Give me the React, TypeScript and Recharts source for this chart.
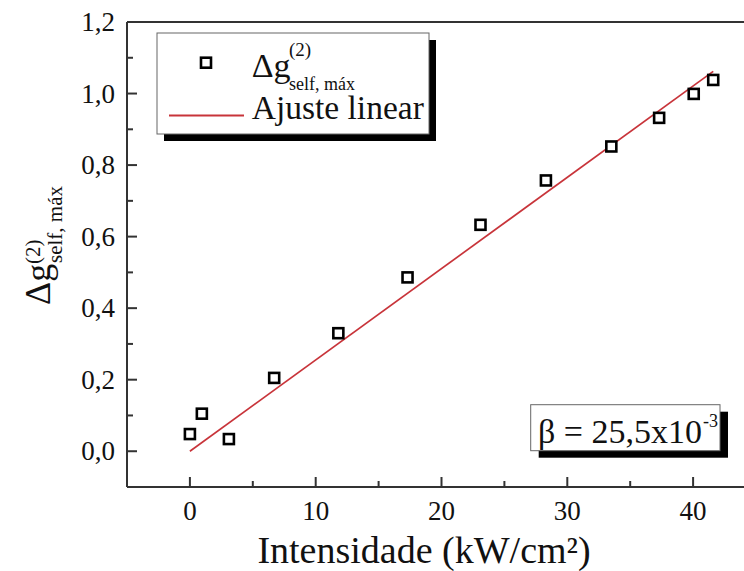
import React from 'react';
import { ComposedChart, XAxis, YAxis, Scatter, Line, ReferenceLine, Legend } from 'recharts';

// Data
const intensidade = [0, 0.95, 3.1, 6.7, 11.8, 17.3, 23.1, 28.3, 33.5, 37.3, 40.05, 41.6];
const deltaG = [0.048, 0.105, 0.034, 0.205, 0.33, 0.486, 0.633, 0.757, 0.852, 0.932, 0.999, 1.038];
const ajusteX = [0, 41.6];
const ajusteY = [0, 1.062];

const xTicks = [0, 5, 10, 15, 20, 25, 30, 35, 40];
const xMajor = [0, 10, 20, 30, 40];
const yTicks = [0, 0.1, 0.2, 0.3, 0.4, 0.5, 0.6, 0.7, 0.8, 0.9, 1.0, 1.1, 1.2];
const yMajor = [0, 0.2, 0.4, 0.6, 0.8, 1.0, 1.2];

const xDomain = [-5, 45];
const yDomain = [-0.1, 1.2];

const pontos = intensidade.map((x, i) => ({ x, y: deltaG[i] }));
const ajuste = ajusteX.map((x, i) => ({ x, y: ajusteY[i] }));

const FONT = "'Liberation Serif', serif";
const AXIS = '#333';
const RED = '#c8343a';
const T = { fontFamily: FONT };

const SquareMarker = (props: any) => {
  const { cx, cy } = props;
  if (cx == null || cy == null) return <g />;
  return <rect x={cx - 5} y={cy - 5} width={10} height={10} fill="#fff" stroke="#000" strokeWidth={2.6} />;
};

const XTick = (props: any) => {
  const { x, y, payload } = props;
  const v = payload.value;
  const major = xMajor.some((m) => Math.abs(m - v) < 1e-9);
  return (
    <g>
      <line x1={x} x2={x} y1={y} y2={y - (major ? 10 : 6)} stroke={AXIS} strokeWidth={2} />
      {major && (
        <text x={x} y={y + 33} textAnchor="middle" fontSize={27} style={T} fill="#111">
          {String(v)}
        </text>
      )}
    </g>
  );
};

const YTick = (props: any) => {
  const { x, y, payload } = props;
  const v = payload.value;
  const major = yMajor.some((m) => Math.abs(m - v) < 1e-9);
  return (
    <g>
      <line x1={x} x2={x + (major ? 10 : 6)} y1={y} y2={y} stroke={AXIS} strokeWidth={2} />
      {major && (
        <text x={x - 12} y={y + 9} textAnchor="end" fontSize={27} style={T} fill="#111">
          {v.toFixed(1).replace('.', ',')}
        </text>
      )}
    </g>
  );
};

const LegendContent = () => (
  <svg width={300} height={125} style={{ display: 'block' }}>
    <rect x={14} y={12} width={272} height={101} fill="#000" />
    <rect x={7} y={5} width={272} height={101} fill="#fff" stroke="#666" strokeWidth={1} />
    <rect x={51} y={29.7} width={10} height={10} fill="#fff" stroke="#000" strokeWidth={2.6} />
    <text x={101.7} y={49} fontSize={34} style={T} fill="#111">Δg</text>
    <text x={139} y={28} fontSize={19} style={T} fill="#111">(2)</text>
    <text x={139} y={62} fontSize={18} style={T} fill="#111">self, máx</text>
    <line x1={19} x2={94} y1={87.5} y2={87.5} stroke={RED} strokeWidth={2} />
    <text x={101.7} y={91} fontSize={33.5} style={T} fill="#111">Ajuste linear</text>
  </svg>
);

export default function App() {
  return (
    <div style={{ position: 'absolute', left: 0, top: 0, width: 744, height: 571, overflow: 'hidden', background: '#fff', fontFamily: FONT }}>
      <ComposedChart
        width={770}
        height={571}
        margin={{ top: 22, right: 14, left: 0, bottom: 0 }}
        style={{ fontFamily: FONT }}
      >
        <XAxis
          type="number"
          dataKey="x"
          domain={xDomain}
          ticks={xTicks}
          interval={0}
          allowDataOverflow
          height={84}
          tickSize={0}
          tickMargin={0}
          tickLine={false}
          axisLine={{ stroke: AXIS, strokeWidth: 2 }}
          tick={<XTick />}
        />
        <YAxis
          type="number"
          dataKey="y"
          domain={yDomain}
          ticks={yTicks}
          interval={0}
          allowDataOverflow
          width={127}
          tickSize={0}
          tickMargin={0}
          tickLine={false}
          axisLine={{ stroke: AXIS, strokeWidth: 2 }}
          tick={<YTick />}
        />
        <ReferenceLine y={1.2} stroke={AXIS} strokeWidth={2} />
        <ReferenceLine x={45} stroke={AXIS} strokeWidth={2} />
        <Line
          data={ajuste}
          dataKey="y"
          type="linear"
          stroke={RED}
          strokeWidth={1.7}
          dot={false}
          activeDot={false}
          isAnimationActive={false}
          legendType="line"
          name="Ajuste linear"
        />
        <Scatter
          data={pontos}
          dataKey="y"
          shape={<SquareMarker />}
          isAnimationActive={false}
          name="Δg(2) self, máx"
        />
        <Legend
          layout="horizontal"
          verticalAlign="middle"
          align="center"
          content={<LegendContent />}
          wrapperStyle={{ position: 'absolute', left: 150, top: 28, width: 300, height: 125 }}
        />
      </ComposedChart>
      <svg
        width={744}
        height={571}
        style={{ position: 'absolute', left: 0, top: 0, pointerEvents: 'none' }}
      >
        {/* beta annotation */}
        <rect x={538.7} y={411.7} width={189.3} height={46} fill="#000" />
        <rect x={530.7} y={404.7} width={189.3} height={46} fill="#fff" stroke="#666" strokeWidth={1} />
        <text x={538} y={443} fontSize={34} style={T} fill="#111">β = 25,5x10</text>
        <text x={703} y={427} fontSize={18} style={T} fill="#111">-3</text>
        {/* x axis title */}
        <text x={424} y={563} textAnchor="middle" fontSize={38} style={T} fill="#111">
          Intensidade (kW/cm²)
        </text>
        {/* y axis title */}
        <g transform="translate(50,305) rotate(-90)">
          <text x={0} y={0} fontSize={36} style={T} fill="#111">Δg</text>
          <text x={41} y={-10} fontSize={21} style={T} fill="#111">(2)</text>
          <text x={42} y={12} fontSize={21} style={T} fill="#111">self, máx</text>
        </g>
      </svg>
    </div>
  );
}
